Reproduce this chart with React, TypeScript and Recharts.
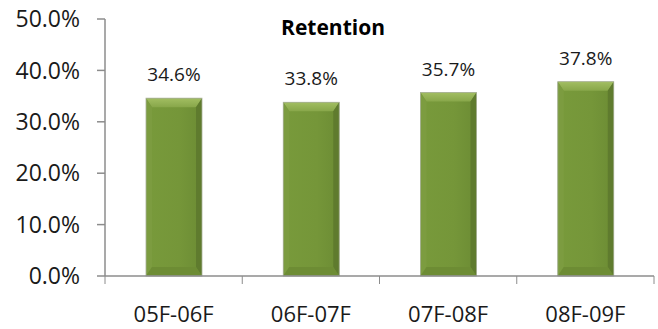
import React from 'react';
import { BarChart, Bar, XAxis, YAxis, LabelList } from 'recharts';

const periods = ['05F-06F', '06F-07F', '07F-08F', '08F-09F'];
const retention = [34.6, 33.8, 35.7, 37.8];
const yTicks = [0, 10, 20, 30, 40, 50];

const data = periods.map((period, i) => ({ period, retention: retention[i] }));

const FONT = '"Open Sans", sans-serif';
const AXIS = '#8c8c8c';

// bevelled bar face, drawn from the rect Recharts hands us
function BevelBar(props: any) {
  const { x, y, width, height } = props;
  if (!height || height <= 0) return null;
  const t = Math.min(9, height / 4);
  const s = Math.min(6, width / 6);
  const r = x + width;
  const btm = y + height;
  return (
    <g>
      <rect x={x} y={y} width={width} height={height} fill="url(#face)" />
      <polygon points={`${x},${y} ${r},${y} ${r - s},${y + t} ${x + s},${y + t}`} fill="url(#topBevel)" />
      <polygon points={`${x},${y} ${x + s},${y + t} ${x + s},${btm - t} ${x},${btm}`} fill="#7c9c40" />
      <polygon points={`${r},${y} ${r},${btm} ${r - s},${btm - t} ${r - s},${y + t}`} fill="#5f7b2e" />
      <polygon points={`${x},${btm} ${x + s},${btm - t} ${r - s},${btm - t} ${r},${btm}`} fill="#6d8c34" />
      <rect x={x} y={y} width={width} height={height} fill="none" stroke="#a9b19a" strokeWidth={0.8} />
    </g>
  );
}

// category label plus tick marks on the band edges
function PeriodTick(props: any) {
  const { x, y, payload, index } = props;
  const half = payload?.offset ?? 68.6;
  const axisY = y - 33;
  return (
    <g>
      <line x1={x - half} y1={axisY} x2={x - half} y2={axisY + 8} stroke={AXIS} />
      {index === periods.length - 1 && (
        <line x1={x + half} y1={axisY} x2={x + half} y2={axisY + 8} stroke={AXIS} />
      )}
      <text x={x} y={y + 13} textAnchor="middle" fontFamily={FONT} fontSize={22} fill="#1a1a1a">
        {payload.value}
      </text>
    </g>
  );
}

export default function App() {
  return (
    <div style={{ position: 'absolute', left: 0, top: 0, width: 658, height: 329, background: '#fff' }}>
      <BarChart
        width={658}
        height={329}
        data={data}
        margin={{ top: 19, right: 4, bottom: 0, left: 0 }}
        barSize={56}
      >
        <defs>
          <linearGradient id="face" x1="0" y1="0" x2="1" y2="0">
            <stop offset="0%" stopColor="#789a3b" />
            <stop offset="60%" stopColor="#759639" />
            <stop offset="100%" stopColor="#6c8c34" />
          </linearGradient>
          <linearGradient id="topBevel" x1="0" y1="0" x2="0" y2="1">
            <stop offset="0%" stopColor="#a2be62" />
            <stop offset="100%" stopColor="#88a74a" />
          </linearGradient>
        </defs>
        <text x={333} y={35} textAnchor="middle" fontFamily={FONT} fontSize={21} fontWeight={700} fill="#000">
          Retention
        </text>
        <XAxis
          dataKey="period"
          height={53}
          axisLine={{ stroke: AXIS, strokeWidth: 1.5 }}
          tickLine={false}
          tickSize={8}
          tickMargin={25}
          interval={0}
          tick={<PeriodTick />}
        />
        <YAxis
          width={105}
          domain={[0, 50]}
          ticks={yTicks}
          interval={0}
          axisLine={{ stroke: AXIS, strokeWidth: 1.5 }}
          tickLine={{ stroke: AXIS, strokeWidth: 1.5 }}
          tickSize={8}
          tickMargin={17}
          tickFormatter={(v: number) => `${v.toFixed(1)}%`}
          tick={{ fontFamily: FONT, fontSize: 23, fill: '#1a1a1a' }}
        />
        <Bar dataKey="retention" shape={<BevelBar />} isAnimationActive={false}>
          <LabelList
            dataKey="retention"
            position="top"
            offset={17}
            formatter={(v: any) => `${Number(v).toFixed(1)}%`}
            style={{ fontFamily: FONT, fontSize: 19, fill: '#1a1a1a' }}
          />
        </Bar>
      </BarChart>
    </div>
  );
}
